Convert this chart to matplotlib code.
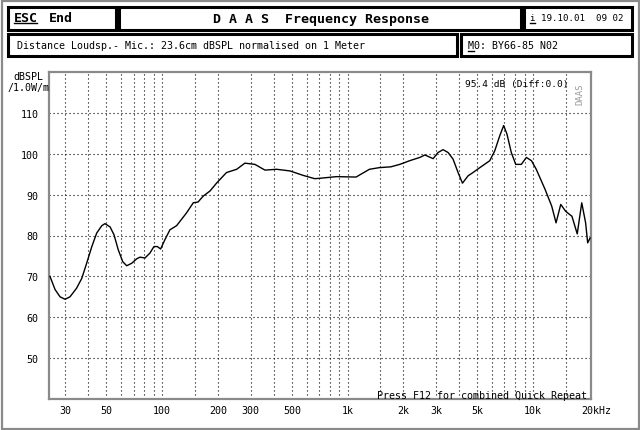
import matplotlib
matplotlib.use("Agg")
import matplotlib.pyplot as plt
from matplotlib.patches import Rectangle
from matplotlib.lines import Line2D

# ---------------- data ----------------
freq_hz = [24.8, 26.4, 28.1, 29.9, 31.8, 34.5, 36.8, 39.1, 41.7, 44.3, 47.2, 49.1,
           52.3, 54.9, 57.9, 61.2, 64.3, 68.4, 72.8, 75.8, 80.7, 85.8, 90.2, 94.0,
           98.0, 103.4, 110, 119.5, 135, 147, 156, 166, 181, 197, 222, 252, 279,
           316, 358, 414, 488, 576, 664, 708, 870, 1110, 1310, 1480, 1710, 1910,
           2160, 2450, 2610, 2890, 3070, 3270, 3480, 3700, 3940, 4160, 4460, 4740,
           5160, 5840, 6210, 6610, 6940, 7230, 7630, 8060, 8640, 9200, 9800, 10400,
           11600, 12600, 13300, 14100, 15000, 16200, 17300, 18300, 19200, 19700, 20300]
spl_db = [70.0, 66.8, 65.0, 64.4, 65.0, 67.1, 69.5, 73.2, 77.3, 80.6, 82.4, 82.9,
          82.1, 80.2, 76.5, 73.6, 72.6, 73.2, 74.3, 74.7, 74.5, 75.7, 77.3, 77.3,
          76.7, 79.0, 81.4, 82.4, 85.5, 88.0, 88.2, 89.6, 90.9, 92.9, 95.4, 96.2, 97.7,
          97.4, 96.0, 96.2, 95.8, 94.7, 93.9, 94.0, 94.4, 94.3, 96.2, 96.6, 96.8, 97.4,
          98.3, 99.1, 99.7, 98.8, 100.3, 101.0, 100.3, 98.7, 95.4, 92.8, 94.6, 95.4,
          96.6, 98.3, 100.7, 104.4, 106.9, 104.8, 100.3, 97.4, 97.4, 99.1, 98.3, 96.2,
          91.3, 87.2, 83.1, 87.6, 85.9, 84.7, 80.4, 88.0, 83.1, 78.2, 79.4]

x_tick_vals = [30, 50, 100, 200, 300, 500, 1000, 2000, 3000, 5000, 10000]
x_tick_labels = ["30", "50", "100", "200", "300", "500", "1k", "2k", "3k", "5k", "10k"]
x_last_label = "20kHz"
x_last_val = 20000
x_grid_vals = [30, 40, 50, 60, 70, 80, 90, 100, 150, 200, 300, 400, 500, 600, 700,
               800, 900, 1000, 1500, 2000, 3000, 4000, 5000, 6000, 7000, 8000, 9000,
               10000, 15000]
y_tick_vals = [50, 60, 70, 80, 90, 100, 110]

title = "D A A S  Frequency Response"
info_line = "Distance Loudsp.- Mic.: 23.6cm dBSPL normalised on 1 Meter"
date_text = "i 19.10.01  09 02"
model_text = "M0: BY66-85 N02"
level_text = "95.4 dB (Diff:0.0)"
footer_text = "Press F12 for combined Quick Repeat"

# ---------------- figure ----------------
W, H = 640, 431
fig = plt.figure(figsize=(W / 100, H / 100), dpi=100)
fig.patch.set_facecolor("white")

MONO = "DejaVu Sans Mono"

def fx(x):
    return x / W

def fy(y):
    return 1 - y / H

def box(x0, y0, x1, y1, lw=2.0, color="black"):
    fig.patches.append(Rectangle((fx(x0), fy(y1)), fx(x1) - fx(x0), fy(y0) - fy(y1),
                                 transform=fig.transFigure, fill=False,
                                 edgecolor=color, linewidth=lw))

def hline(x0, x1, y, lw=1.0, color="black"):
    fig.lines.append(Line2D([fx(x0), fx(x1)], [fy(y), fy(y)], transform=fig.transFigure,
                            color=color, linewidth=lw))

# outer dithered frame
box(1.5, 1.5, 638.5, 429.5, lw=1.6, color="#8a8a8a")

# header boxes
box(8, 8, 116, 30.5, lw=2.2)
box(119, 8, 520.5, 30.5, lw=2.2)
box(524, 8, 631.5, 30.5, lw=2.2)
box(8, 35, 457, 57, lw=2.2)
box(460.5, 35, 631.5, 57, lw=2.2)

fig.text(fx(14), fy(19), "ESC", fontfamily=MONO, fontweight="bold", fontsize=9.5,
         va="center", ha="left")
hline(14, 37, 23.5, lw=1.0)
fig.text(fx(49), fy(19), "End", fontfamily=MONO, fontweight="bold", fontsize=9.5,
         va="center", ha="left")
fig.text(fx(321), fy(19.5), title, fontfamily=MONO, fontweight="bold", fontsize=9.5,
         va="center", ha="center")
fig.text(fx(530), fy(18.5), date_text, fontfamily=MONO, fontsize=6.6,
         va="center", ha="left")
hline(530, 535, 24, lw=1.0)
fig.text(fx(17), fy(46), info_line, fontfamily=MONO, fontsize=7.2,
         va="center", ha="left")
fig.text(fx(468), fy(46), model_text, fontfamily=MONO, fontsize=7.2,
         va="center", ha="left")
hline(468, 474, 51.5, lw=1.0)

# ---------------- axes ----------------
ax_left, ax_right, ax_top, ax_bottom = 49, 590.5, 73, 400
ax = fig.add_axes([fx(ax_left), fy(ax_bottom), fx(ax_right) - fx(ax_left),
                   fy(ax_top) - fy(ax_bottom)])
ax.set_xscale("log")
ax.set_xlim(24.5, 20400)
ax.set_ylim(40, 120)

for gv in x_grid_vals:
    ax.axvline(gv, color="black", linewidth=0.8, linestyle=(0, (1, 2.6)), zorder=1)
for yv in y_tick_vals:
    ax.axhline(yv, color="black", linewidth=0.8, linestyle=(0, (1, 2.6)), zorder=1)

ax.plot(freq_hz, spl_db, color="black", linewidth=1.0, zorder=3)

ax.set_xticks(x_tick_vals)
ax.set_xticklabels(x_tick_labels)
ax.xaxis.set_minor_locator(matplotlib.ticker.NullLocator())
ax.set_yticks(y_tick_vals)
ax.set_yticklabels([str(v) for v in y_tick_vals])
ax.tick_params(axis="both", length=0, labelsize=7.2)
ax.tick_params(axis="x", pad=4.5)
ax.tick_params(axis="y", pad=7.5)
for lab in ax.get_xticklabels() + ax.get_yticklabels():
    lab.set_fontfamily(MONO)

for sp in ax.spines.values():
    sp.set_color("#8a8a8a")
    sp.set_linewidth(1.6)

# last label "20kHz", with "20k" roughly centred on 20 kHz
ax.annotate(x_last_label, xy=(x_last_val, 40), xycoords="data", xytext=(-5.5, -4.3),
            textcoords="offset points", fontfamily=MONO, fontsize=7.2, ha="left",
            va="top", annotation_clip=False)

fig.text(fx(13), fy(77), "dBSPL", fontfamily=MONO, fontsize=7.2, va="center", ha="left")
fig.text(fx(7), fy(87.5), "/1.0W/m", fontfamily=MONO, fontsize=7.2, va="center", ha="left")

fig.text(fx(568.5), fy(85), level_text, fontfamily=MONO, fontsize=6.8, va="center", ha="right")
fig.text(fx(587), fy(396), footer_text, fontfamily=MONO, fontsize=7.2, va="center", ha="right")
fig.text(fx(580), fy(94), "DAAS", fontfamily=MONO, fontsize=6.5, rotation=90,
         va="center", ha="center", color="#9a9a9a")

fig.savefig("out.png", dpi=100, facecolor="white")
